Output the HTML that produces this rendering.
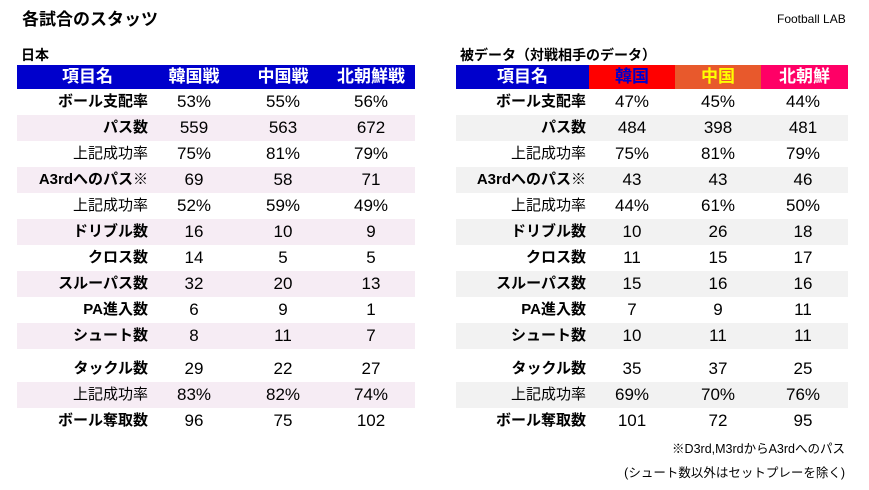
<!DOCTYPE html>
<html><head><meta charset="utf-8">
<style>
body{margin:0;width:869px;height:490px;background:#fff;position:relative;overflow:hidden;font-family:"Liberation Sans","Noto Sans CJK JP",sans-serif;color:#000}
.abs{position:absolute;white-space:nowrap}
.row{position:absolute;height:26px}
.cell{position:absolute;top:0;height:26px;line-height:26px;font-size:17px;text-align:center}
.lab{position:absolute;top:0;height:26px;line-height:26px;font-size:15px;text-align:right;font-weight:bold}
.lab.n{font-weight:normal}
.hd{position:absolute;top:0;height:24px;line-height:24px;font-size:17px;font-weight:bold;text-align:center}
</style></head><body>
<div class="abs" style="left:22px;top:5px;font-size:17px;font-weight:bold">各試合のスタッツ</div>
<div class="abs" style="left:777px;top:12px;font-size:12px">Football LAB</div>
<div class="abs" style="left:21px;top:45px;font-size:14px;font-weight:bold">日本</div>
<div class="abs" style="left:460px;top:45px;font-size:14px;font-weight:bold">被データ（対戦相手のデータ）</div>
<div id="left" class="abs" style="left:17px;top:65px;width:398px;height:370px"></div>
<div id="right" class="abs" style="left:456px;top:65px;width:392px;height:370px"></div>
<div class="abs" style="right:24px;top:438px;font-size:12.5px">※D3rd,M3rdからA3rdへのパス</div>
<div class="abs" style="right:24px;top:462px;font-size:12.5px">(シュート数以外はセットプレーを除く)</div>
<script>
const labels=["ボール支配率","パス数","上記成功率","A3rdへのパス※","上記成功率","ドリブル数","クロス数","スルーパス数","PA進入数","シュート数","タックル数","上記成功率","ボール奪取数"];
const plain=[false,false,true,false,true,false,false,false,false,false,false,true,false];
const japanKorea=["53%","559","75%","69","52%","16","14","32","6","8","29","83%","96"];
const japanChina=["55%","563","81%","58","59%","10","5","20","9","11","22","82%","75"];
const japanNK=["56%","672","79%","71","49%","9","5","13","1","7","27","74%","102"];
const oppKorea=["47%","484","75%","43","44%","10","11","15","7","10","35","69%","101"];
const oppChina=["45%","398","81%","43","61%","26","15","16","9","11","37","70%","72"];
const oppNK=["44%","481","79%","46","50%","18","17","16","11","11","25","76%","95"];
function build(id,hdrs,cols,cfg){
  const root=document.getElementById(id);
  hdrs.forEach((h,i)=>{
    const d=document.createElement('div');d.className='hd';
    
    
    d.style.left=h.x+'px';d.style.width=h.w+'px';d.style.background=h.bg;d.style.color=h.fg;
    d.textContent=h.t;root.appendChild(d);
  });
  labels.forEach((l,r)=>{
    let y=24+r*26+(r>=10?7:0);
    const row=document.createElement('div');row.className='row';
    
    
    row.style.top=y+'px';row.style.left='0';row.style.width=cfg.w+'px';
    if(r%2===1)row.style.background=cfg.shade;
    const lb=document.createElement('div');lb.className='lab'+(plain[r]?' n':'');
    
    
    lb.style.left='0';lb.style.width=cfg.lr+'px';lb.textContent=l;row.appendChild(lb);
    cols.forEach((c,ci)=>{
      const v=document.createElement('div');v.className='cell';
      
      
      v.style.left=(cfg.cx[ci]-40)+'px';v.style.width='80px';v.textContent=c[r];row.appendChild(v);
    });
    root.appendChild(row);
  });
}
build('left',[
 {name:'item',t:'項目名',x:0,w:138,bg:'#0000cc',fg:'#fff'},
 {name:'korea',t:'韓国戦',x:138,w:260,bg:'#0000cc',fg:'#fff'},
],[japanKorea,japanChina,japanNK],{w:398,shade:'#f6ecf4',lr:131,cx:[177,266,354]});
(function(){const r=document.getElementById('left');const hs=r.querySelectorAll('.hd');hs[1].remove();
[['中国戦',266],['北朝鮮戦',354],['韓国戦',177]].forEach(a=>{const d=document.createElement('div');d.className='hd';


d.style.left=(a[1]-44)+'px';d.style.width='88px';d.style.color='#fff';d.textContent=a[0];r.appendChild(d);});
hs[0].style.width='398px';hs[0].style.textAlign='left';hs[0].style.paddingLeft='45px';hs[0].style.boxSizing='border-box';})();
build('right',[
 {name:'item',t:'項目名',x:0,w:133,bg:'#0000cc',fg:'#fff'},
 {name:'korea',t:'韓国',x:133,w:86,bg:'#ff0000',fg:'#0000cc'},
 {name:'china',t:'中国',x:219,w:86,bg:'#e8592c',fg:'#ffff00'},
 {name:'north-korea',t:'北朝鮮',x:305,w:87,bg:'#ff0066',fg:'#fff'},
],[oppKorea,oppChina,oppNK],{w:392,shade:'#f2f2f2',lr:130,cx:[176,262,347]});
</script>
</body></html>
